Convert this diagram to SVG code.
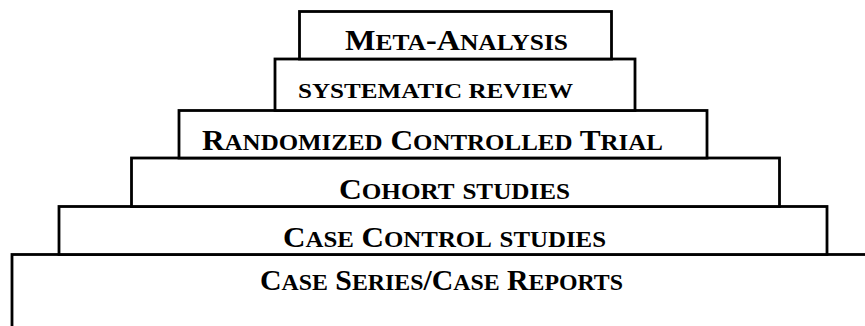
<svg xmlns="http://www.w3.org/2000/svg" width="865" height="326" viewBox="0 0 865 326">
<style>
.box{fill:#fff;stroke:#000;stroke-width:2.8}
.lbl{font-family:"Liberation Serif","Times New Roman",serif;font-weight:bold;fill:#000}
</style>
<rect width="865" height="326" fill="#fff"/>
<g id="level6"><rect class="box" x="12" y="254.5" width="870" height="90"/>
<text class="lbl" x="260" y="289.5" font-size="30" textLength="363" lengthAdjust="spacingAndGlyphs">C<tspan font-size="24">ASE</tspan> S<tspan font-size="24">ERIES</tspan>/C<tspan font-size="24">ASE</tspan> R<tspan font-size="24">EPORTS</tspan></text></g>
<g id="level5"><rect class="box" x="59" y="206.5" width="768" height="48"/>
<text class="lbl" x="283" y="246.5" font-size="30" textLength="323" lengthAdjust="spacingAndGlyphs">C<tspan font-size="24">ASE</tspan> C<tspan font-size="24">ONTROL</tspan> <tspan font-size="24">STUDIES</tspan></text></g>
<g id="level4"><rect class="box" x="131.5" y="158" width="648" height="48.5"/>
<text class="lbl" x="339" y="199" font-size="29.5" textLength="231" lengthAdjust="spacingAndGlyphs">C<tspan font-size="23.5">OHORT</tspan> <tspan font-size="23.5">STUDIES</tspan></text></g>
<g id="level3"><rect class="box" x="179" y="110.5" width="528" height="47.5"/>
<text class="lbl" x="202" y="149.5" font-size="29.5" textLength="461" lengthAdjust="spacingAndGlyphs">R<tspan font-size="23.5">ANDOMIZED</tspan> C<tspan font-size="23.5">ONTROLLED</tspan> T<tspan font-size="23.5">RIAL</tspan></text></g>
<g id="level2"><rect class="box" x="275" y="59" width="360" height="51.5"/>
<text class="lbl" x="298" y="97.5" font-size="21.5" textLength="275" lengthAdjust="spacingAndGlyphs">SYSTEMATIC REVIEW</text></g>
<g id="level1"><rect class="box" x="299.5" y="11.5" width="312" height="47.5"/>
<text class="lbl" x="345" y="50" font-size="28.5" textLength="223" lengthAdjust="spacingAndGlyphs">M<tspan font-size="22.5">ETA</tspan>-A<tspan font-size="22.5">NALYSIS</tspan></text></g>
<g id="connectors"/>
</svg>
